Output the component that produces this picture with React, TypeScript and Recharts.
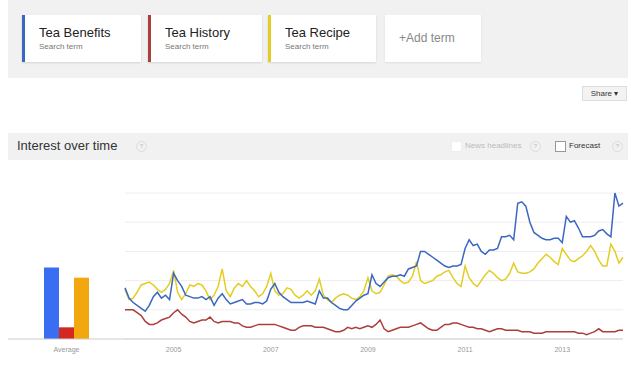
import React from 'react';
import { LineChart, Line, BarChart, Bar, XAxis, YAxis, CartesianGrid } from 'recharts';

// search terms shown in the header cards
const terms = ['Tea Benefits', 'Tea History', 'Tea Recipe'];
const termColors = ['#3b67c0', '#ab3f3b', '#e3cd22'];
const barColors = ['#3a6ef2', '#d2281f', '#f3a70f'];

// averages for the left bars
const averages = [49, 8, 42];

// monthly interest Jan 2004 .. Apr 2014
const benefits = [
  35, 28, 25, 23, 21, 19, 23, 29, 32, 28, 30, 27,
  45, 40, 36, 30, 29, 28, 28, 29, 27, 29, 23, 28,
  31, 27, 24, 25, 26, 27, 24, 24, 25, 25, 24, 26,
  34, 38, 32, 29, 27, 25, 25, 25, 25, 26, 25, 24,
  33, 28, 28, 25, 23, 21, 20, 20, 23, 26, 28, 30,
  31, 44, 38, 36, 39, 42, 43, 43, 44, 43, 48, 49,
  50, 60, 60, 58, 56, 54, 52, 50, 49, 50, 50, 51,
  62, 68, 64, 65, 60, 58, 61, 61, 62, 70, 70, 71,
  68, 93, 94, 91, 80, 73, 71, 69, 68, 68, 69, 69,
  66, 84, 80, 81, 76, 70, 70, 70, 71, 74, 75, 72,
  70, 100, 91, 93,
];
const history = [
  20, 20, 20, 18, 16, 12, 10, 10, 11, 13, 14, 15,
  18, 20, 17, 15, 12, 11, 12, 13, 13, 15, 12, 11,
  12, 12, 12, 11, 11, 9, 8, 8, 9, 10, 10, 10,
  10, 10, 9, 8, 7, 6, 6, 8, 9, 9, 9, 8,
  8, 8, 7, 6, 5, 5, 6, 8, 7, 8, 7, 8,
  9, 8, 10, 13, 7, 5, 6, 7, 8, 8, 8, 9,
  10, 11, 9, 7, 6, 6, 8, 10, 10, 11, 11, 10,
  9, 8, 8, 7, 7, 6, 5, 6, 7, 7, 6, 6,
  6, 6, 5, 5, 5, 4, 4, 4, 5, 5, 5, 5,
  5, 5, 5, 5, 4, 4, 3, 4, 5, 7, 5, 5,
  5, 5, 6, 6,
];
const recipe = [
  34, 27, 28, 32, 37, 38, 39, 37, 34, 32, 34, 38,
  47, 32, 27, 31, 37, 36, 38, 37, 33, 27, 30, 36,
  48, 33, 29, 35, 38, 36, 40, 36, 33, 29, 31, 36,
  45, 33, 30, 31, 35, 34, 30, 28, 30, 33, 30, 33,
  41, 30, 27, 25, 28, 30, 31, 30, 28, 27, 29, 33,
  42, 33, 31, 32, 37, 43, 44, 43, 40, 38, 39, 43,
  53, 40, 38, 39, 40, 43, 44, 46, 47, 42, 38, 36,
  50, 42, 38, 36, 40, 44, 47, 45, 42, 40, 41, 45,
  52, 46, 45, 45, 46, 48, 52, 55, 58, 56, 53, 51,
  62, 58, 54, 53, 55, 57, 60, 64, 60, 54, 50, 50,
  65, 60, 52, 56,
];

const yearTicks = [12, 36, 60, 84, 108];
const yearLabels = ['2005', '2007', '2009', '2011', '2013'];

const data = benefits.map((v, i) => ({
  i,
  benefits: v,
  history: history[i],
  recipe: recipe[i],
}));

const avgData = [{ name: 'Average', benefits: averages[0], history: averages[1], recipe: averages[2] }];

const font = '"Liberation Sans", Arial, sans-serif';

function Help({ left, top }: { left: number; top: number }) {
  return (
    <div
      style={{
        position: 'absolute', left, top, width: 9, height: 9, borderRadius: '50%',
        border: '1px solid #ddd', color: '#bbb', fontSize: 6, lineHeight: '9px', textAlign: 'center',
      }}
    >
      ?
    </div>
  );
}

export default function App() {
  return (
    <div style={{ position: 'absolute', left: 0, top: 0, width: 631, height: 365, background: '#fff', fontFamily: font, overflow: 'hidden' }}>
      {/* terms panel */}
      <div style={{ position: 'absolute', left: 8, top: 0, width: 620, height: 78, background: '#f1f1f1' }} />
      {terms.map((t, k) => {
        const lefts = [22, 148, 268];
        const widths = [119, 114, 108];
        return (
          <div
            key={t}
            style={{
              position: 'absolute', left: lefts[k], top: 15, width: widths[k], height: 47, background: '#fff',
              borderLeft: `3px solid ${termColors[k]}`, boxShadow: '0 1px 2px rgba(0,0,0,0.12)', boxSizing: 'border-box',
            }}
          >
            <div style={{ position: 'absolute', left: 14, top: 10, fontSize: 13, color: '#222' }}>{t}</div>
            <div style={{ position: 'absolute', left: 14, top: 27, fontSize: 8, color: '#777' }}>Search term</div>
          </div>
        );
      })}
      <div style={{ position: 'absolute', left: 385, top: 15, width: 96, height: 47, background: '#fff', boxShadow: '0 1px 2px rgba(0,0,0,0.08)' }}>
        <div style={{ position: 'absolute', left: 14, top: 16, fontSize: 12, color: '#888' }}>+Add term</div>
      </div>

      {/* share button */}
      <div
        style={{
          position: 'absolute', left: 582, top: 86, width: 45, height: 15, background: '#f3f3f3', border: '1px solid #ddd',
          boxSizing: 'border-box', fontSize: 8, color: '#333', lineHeight: '13px', textAlign: 'center',
        }}
      >
        Share ▾
      </div>

      {/* interest over time header */}
      <div style={{ position: 'absolute', left: 8, top: 133, width: 620, height: 27, background: '#f1f1f1' }} />
      <div style={{ position: 'absolute', left: 17, top: 138, fontSize: 13, color: '#333' }}>Interest over time</div>
      <Help left={136} top={141} />
      <div style={{ position: 'absolute', left: 451, top: 141, width: 9, height: 9, border: '1px solid #eee', background: '#fff', borderRadius: 2 }} />
      <div style={{ position: 'absolute', left: 465, top: 141, fontSize: 8, color: '#bbb' }}>News headlines</div>
      <Help left={530} top={141} />
      <div style={{ position: 'absolute', left: 555, top: 141, width: 9, height: 9, border: '1px solid #999', background: '#fff' }} />
      <div style={{ position: 'absolute', left: 569, top: 141, fontSize: 8, color: '#333' }}>Forecast</div>
      <Help left={612} top={141} />

      {/* average bars */}
      <div style={{ position: 'absolute', left: 0, top: 160 }}>
        <BarChart width={125} height={205} data={avgData} margin={{ top: 33, right: 0, bottom: 6, left: 8 }} barGap={0} barCategoryGap={0}>
          <XAxis
            dataKey="name"
            height={20}
            axisLine={{ stroke: '#ccc' }}
            tickLine={false}
            tick={{ fontSize: 7, fill: '#999', fontFamily: font }}
          />
          <YAxis hide domain={[0, 100]} />
          <Bar dataKey="benefits" fill={barColors[0]} barSize={15} isAnimationActive={false} />
          <Bar dataKey="history" fill={barColors[1]} barSize={15} isAnimationActive={false} />
          <Bar dataKey="recipe" fill={barColors[2]} barSize={15} isAnimationActive={false} />
        </BarChart>
      </div>

      {/* line chart */}
      <div style={{ position: 'absolute', left: 0, top: 160 }}>
        <LineChart width={631} height={205} data={data} margin={{ top: 33, right: 8, bottom: 6, left: 125 }}>
          <CartesianGrid vertical={false} stroke="#eee" />
          <XAxis
            dataKey="i"
            type="number"
            domain={[0, benefits.length - 1]}
            ticks={yearTicks}
            tickFormatter={(v) => yearLabels[yearTicks.indexOf(v)]}
            height={20}
            axisLine={{ stroke: '#ccc' }}
            tickLine={false}
            tick={{ fontSize: 7, fill: '#999', fontFamily: font }}
          />
          <YAxis hide domain={[0, 100]} ticks={[0, 20, 40, 60, 80, 100]} />
          <Line dataKey="history" stroke={termColors[1]} strokeWidth={1.5} dot={false} isAnimationActive={false} />
          <Line dataKey="recipe" stroke={termColors[2]} strokeWidth={1.5} dot={false} isAnimationActive={false} />
          <Line dataKey="benefits" stroke={termColors[0]} strokeWidth={1.5} dot={false} isAnimationActive={false} />
        </LineChart>
      </div>
    </div>
  );
}
